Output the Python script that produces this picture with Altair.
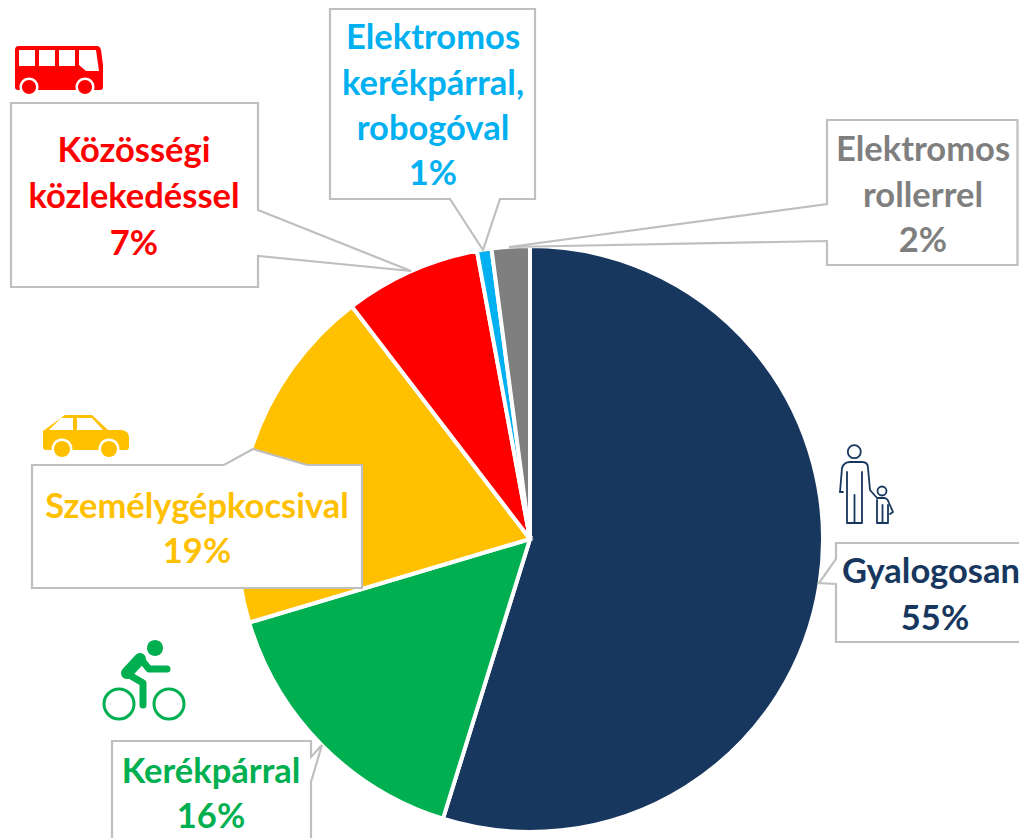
import altair as alt
import pandas as pd

# ---- chart values ----
categories = ["Gyalogosan", "Kerékpárral", "Személygépkocsival", "Közösségi közlekedéssel",
              "Elektromos kerékpárral, robogóval", "Elektromos rollerrel"]
shares = [54.8, 15.6, 19.2, 7.5, 0.8, 2.1]
colors = ["#17375E", "#00B050", "#FFC000", "#FF0000", "#00B0F0", "#7F7F7F"]

# ---- label lines ----
label_lines = ["Gyalogosan", "55%", "Kerékpárral", "16%", "Személygépkocsival", "19%",
               "Közösségi", "közlekedéssel", "7%", "Elektromos", "kerékpárral,", "robogóval", "1%",
               "Elektromos", "rollerrel", "2%"]
label_x = [931, 935, 211, 211, 197, 197, 134, 134, 134, 433, 433, 433, 433, 923, 923, 923]
label_y = [583, 630, 783, 828, 518, 563, 162, 208, 255, 49, 95, 140, 185, 161, 207, 252]
label_colors = [colors[0]] * 2 + [colors[1]] * 2 + [colors[2]] * 2 + [colors[3]] * 3 + [colors[4]] * 4 + [colors[5]] * 3

BORDER = "#BFBFBF"
W, H = 1011, 830
OFF = -8  # drawing paths below use page coordinates


def circle(cx, cy, r):
    return f"M{cx-r},{cy}A{r},{r} 0 1 0 {cx+r},{cy}A{r},{r} 0 1 0 {cx-r},{cy}Z"


callouts = [
    "M836,543L1040,543L1040,642L836,642L836,584L819,583L836,559Z",
    "M112,741L311,741L311,757L322,745L311,782L311,850L112,850Z",
    "M32,465L224,465L253,449L307,465L362,465L362,588L32,588Z",
    "M11,103L258,103L258,210L411,271L258,256L258,287L11,287Z",
    "M330,9L535,9L535,199L500,199L483,250L450,199L330,199Z",
    "M827,120L1017.5,120L1017.5,265L827,265L827,241L509,247L827,204Z",
]

red, yellow, green, navy = colors[3], colors[2], colors[1], colors[0]
# path, fill, stroke, strokeWidth
icon_parts = [
    # bus
    ("M19,46L97,46Q100,46 101,50L103,65L103,87Q103,90 100,90L18,90Q15,90 15,87L15,50Q15,46 19,46Z", red, "none", 0),
    ("M19,50L35,50L35,66L19,66Z", "white", "none", 0),
    ("M39,50L55,50L55,66L39,66Z", "white", "none", 0),
    ("M59,50L75,50L75,66L59,66Z", "white", "none", 0),
    ("M79,50L96,50L99,71L86,71L79,65Z", "white", "none", 0),
    (circle(29, 87, 9.5), "white", "none", 0),
    (circle(85, 87, 9.5), "white", "none", 0),
    (circle(29, 87, 7), red, "none", 0),
    (circle(85, 87, 7), red, "none", 0),
    # car
    ("M43,431L65,415L92,415L108,430L122,430Q129,431 129,438L129,447Q129,450 126,450L46,450Q43,450 43,447Z", yellow, "none", 0),
    ("M49,430L61,418L73,418L73,430Z", "white", "none", 0),
    ("M77,418L92,418L103,430L77,430Z", "white", "none", 0),
    (circle(62, 449, 10.5), "white", "none", 0),
    (circle(109, 449, 10.5), "white", "none", 0),
    (circle(62, 449, 8), yellow, "none", 0),
    (circle(109, 449, 8), yellow, "none", 0),
    # bicycle
    (circle(155, 648, 8), green, "none", 0),
    (circle(119, 704, 15), "transparent", green, 3),
    (circle(169, 704, 15), "transparent", green, 3),
    ("M127,673L140,659", "transparent", green, 12),
    ("M140,658L149,669L167,669", "transparent", green, 7),
    ("M126,673L143,683L143,705", "transparent", green, 7),
    # pedestrians
    (circle(854.3, 451.7, 6.5), "transparent", navy, 1.8),
    ("M840,492L842,468Q844,462 850,462L862,462Q868,462 868,468L870,490L877,498L885,498Q888,499 889,503L893,512L890,514",
     "transparent", navy, 1.8),
    ("M840,492L843,492M847,472L847,523L862,523L862,472M854.5,495L854.5,523", "transparent", navy, 1.8),
    (circle(882, 491, 4.5), "transparent", navy, 1.8),
    ("M877,500L877,523L888,523L888,505M882.5,505L882.5,523", "transparent", navy, 1.8),
]

pie_df = pd.DataFrame({"category": categories, "share": shares, "idx": range(len(shares))})
pie = alt.Chart(pie_df).mark_arc(outerRadius=293, stroke="white", strokeWidth=4).encode(
    theta=alt.Theta("share:Q", stack=True),
    color=alt.Color("category:N", scale=alt.Scale(domain=categories, range=colors), legend=None),
    order=alt.Order("idx:Q"),
    x=alt.value(530 - 8),
    y=alt.value(539 - 8),
)

x_px = alt.X("x:Q", scale=None, axis=None)
y_px = alt.Y("y:Q", scale=None, axis=None)

callout_df = pd.DataFrame({"x": OFF, "y": OFF, "path": callouts})
callout_layer = alt.Chart(callout_df).mark_point(
    size=4, filled=False, fill="white", stroke=BORDER, strokeWidth=2.2, opacity=1, strokeJoin="miter"
).encode(x=x_px, y=y_px, shape=alt.Shape("path:N", scale=None))

icon_df = pd.DataFrame({
    "x": OFF, "y": OFF,
    "path": [p[0] for p in icon_parts],
    "f": [p[1] for p in icon_parts],
    "s": [p[2] for p in icon_parts],
    "sw": [p[3] for p in icon_parts],
})
icon_layer = alt.Chart(icon_df).mark_point(size=4, opacity=1, strokeCap="round", strokeJoin="round").encode(
    x=x_px, y=y_px,
    shape=alt.Shape("path:N", scale=None),
    fill=alt.Fill("f:N", scale=None),
    stroke=alt.Stroke("s:N", scale=None),
    strokeWidth=alt.StrokeWidth("sw:Q", scale=None),
)

label_df = pd.DataFrame({
    "t": label_lines,
    "x": [v - 8 for v in label_x],
    "y": [v - 8 for v in label_y],
    "c": label_colors,
})
label_layer = alt.Chart(label_df).mark_text(
    font="Lato", fontWeight="bold", fontSize=34.5, align="center", baseline="alphabetic"
).encode(x=x_px, y=y_px, text="t:N", color=alt.Color("c:N", scale=None))

chart = alt.layer(pie, callout_layer, icon_layer, label_layer).properties(
    width=W, height=H, padding=0, autosize=alt.AutoSizeParams(type="none")
).configure_view(stroke=None)

chart.save("out.html", embed_options={"renderer": "svg", "actions": False})
